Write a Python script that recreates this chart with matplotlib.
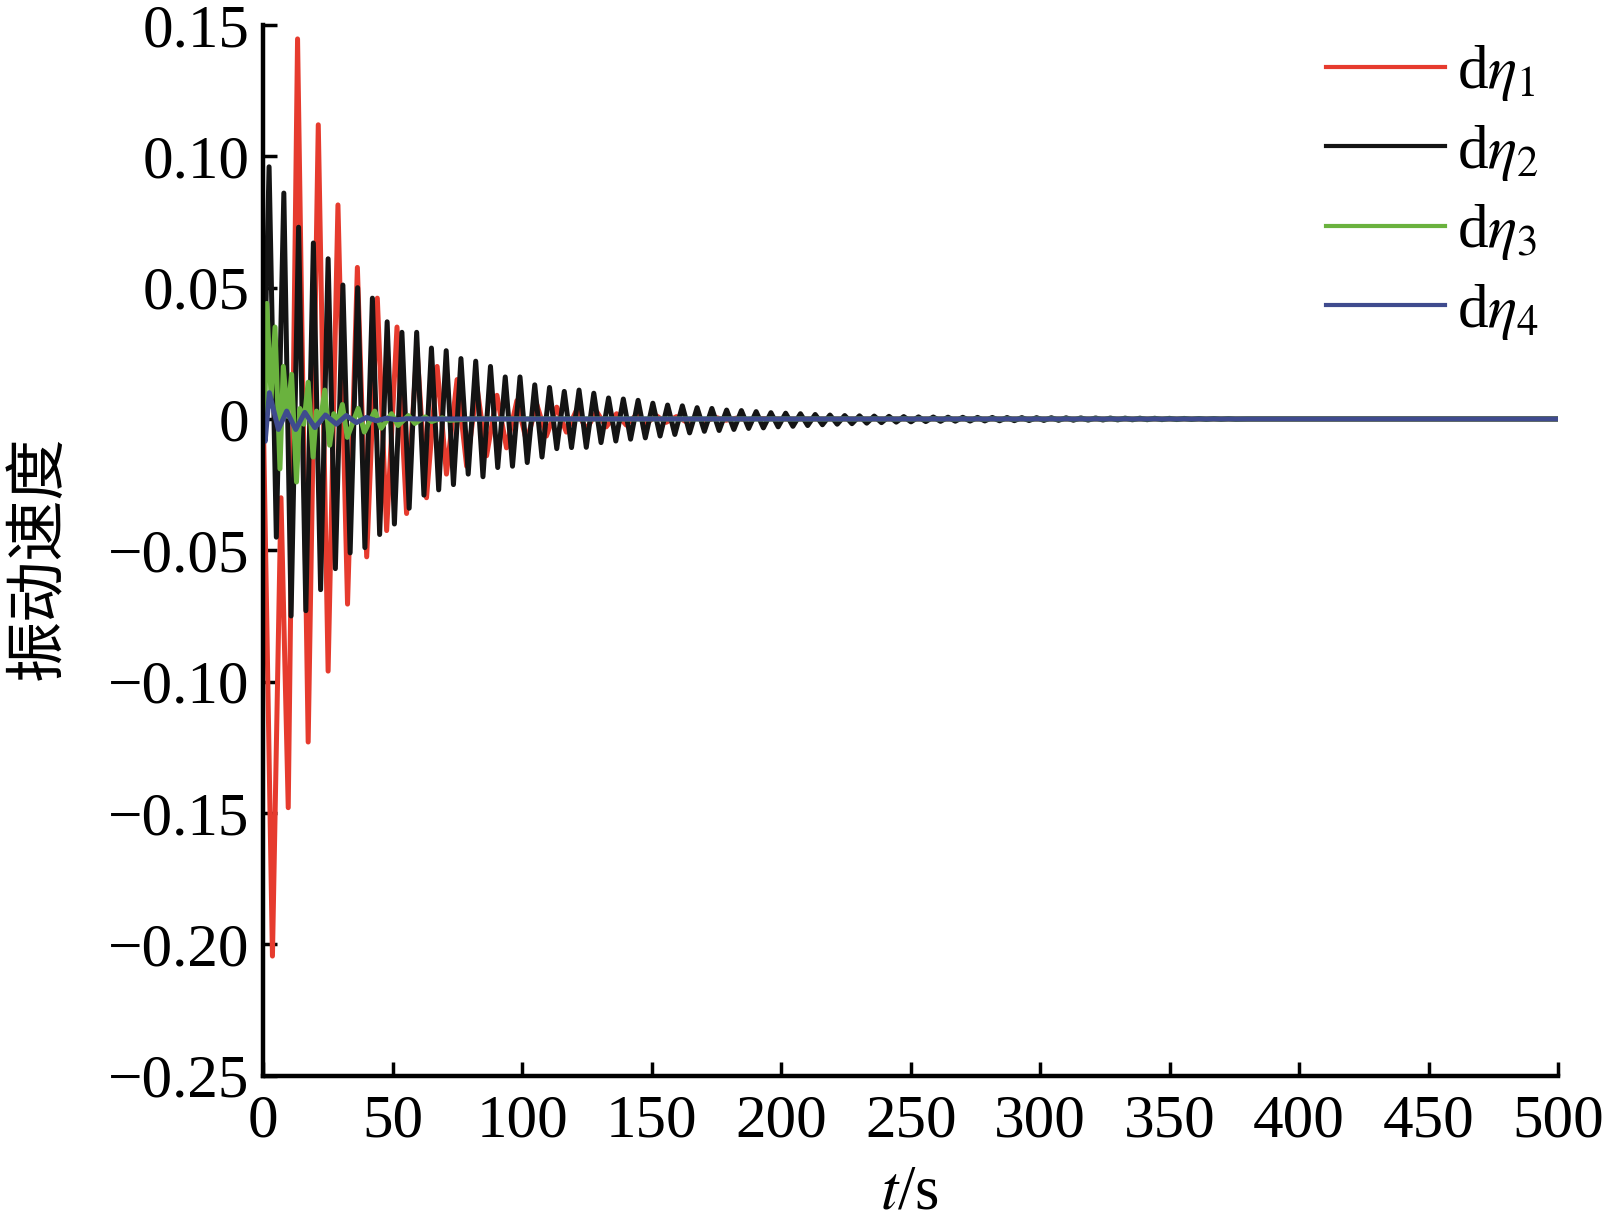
import numpy as np
import matplotlib
matplotlib.use('Agg')
import matplotlib.pyplot as plt

plt.rcParams['font.family'] = ['Liberation Serif', 'Noto Sans CJK SC']
plt.rcParams['mathtext.fontset'] = 'stix'

# extrema (t in s, value)
red_t = [0, 3.5, 6.8, 9.6, 13.2, 17.3, 21.2, 25.0, 28.8, 32.5, 36.3, 39.9, 44.0, 47.6, 51.6,
         55.3, 59.3, 63.0, 67.1, 70.7, 74.8, 78.5, 82.5, 86.2, 90.2, 93.9, 97.9, 101.6, 105.6,
         109.3, 113.3, 117.0, 121.0, 124.7, 128.7, 132.4, 136.4, 140.1, 144.1, 147.8, 151.8,
         155.5, 159.5, 163.2, 167.2, 170.9, 174.9, 178.6, 182.6, 186.3, 190.3, 200, 500]
red_v = [0, -0.2045, -0.03, -0.148, 0.1447, -0.123, 0.112, -0.096, 0.0815, -0.0705, 0.0577,
         -0.0525, 0.046, -0.0425, 0.035, -0.036, 0.027, -0.030, 0.020, -0.021, 0.015, -0.018,
         0.012, -0.014, 0.009, -0.011, 0.007, -0.0085, 0.0055, -0.0065, 0.0045, -0.005, 0.0035,
         -0.004, 0.0028, -0.003, 0.002, -0.0023, 0.0016, -0.0017, 0.0012, -0.0013, 0.0009,
         -0.001, 0.0007, -0.0007, 0.0005, -0.0005, 0.0003, -0.0003, 0.0002, 0, 0]

black_peak_t = [2.2, 7.9, 13.6, 19.3, 25.0, 30.7, 36.4, 42.1, 47.8, 53.5,
                59.2, 64.9, 70.6, 76.3, 82.0, 87.7, 93.4, 99.1, 104.8, 110.5,
                116.2, 121.9, 127.6, 133.3, 139.0, 144.7, 150.4, 156.1, 161.8, 167.5,
                173.2, 178.9, 184.6, 190.3, 196.0, 201.7, 207.4, 213.1, 218.8, 224.5,
                230.2, 235.9, 241.6, 247.3, 253.0, 258.7, 264.4, 270.1, 275.8, 281.5,
                287.2, 292.9, 298.6, 304.3, 310.0, 315.7, 321.4, 327.1, 332.8, 338.5,
                344.2, 349.9, 355.6, 361.3, 367.0, 372.7]
black_peak_v = [0.096, 0.086, 0.073, 0.067, 0.061, 0.051, 0.050, 0.046, 0.037, 0.033,
                0.033, 0.027, 0.026, 0.023, 0.022, 0.020, 0.016, 0.016, 0.013, 0.012,
                0.0105, 0.011, 0.0098, 0.008, 0.0076, 0.0071, 0.006, 0.0053, 0.005, 0.0043,
                0.004, 0.0034, 0.0032, 0.0028, 0.0024, 0.0022, 0.002, 0.0017, 0.0015, 0.0013,
                0.0012, 0.0011, 0.001, 0.0009, 0.0008, 0.00075, 0.00068, 0.00064, 0.0006, 0.00058,
                0.00055, 0.00052, 0.0005, 0.00047, 0.00044, 0.00041, 0.00038, 0.00035, 0.00032, 0.0003,
                0.00027, 0.00024, 0.00021, 0.00018, 0.00015, 0.00012]
black_trough_t = [5.0, 10.7, 16.4, 22.1, 27.8, 33.5, 39.2, 44.9, 50.6, 56.3,
                  62.0, 67.7, 73.4, 79.1, 84.8, 90.5, 96.2, 101.9, 107.6, 113.3,
                  119.0, 124.7, 130.4, 136.1, 141.8, 147.5, 153.2, 158.9, 164.6, 170.3,
                  176.0, 181.7, 187.4, 193.1, 198.8, 204.5, 210.2, 215.9, 221.6, 227.3,
                  233.0, 238.7, 244.4, 250.1, 255.8, 261.5, 267.2, 272.9, 278.6, 284.3,
                  290.0, 295.7, 301.4, 307.1, 312.8, 318.5, 324.2, 329.9, 335.6, 341.3,
                  347.0, 352.7, 358.4, 364.1, 369.8, 375.5]
black_trough_v = [-0.045, -0.075, -0.073, -0.065, -0.057, -0.051, -0.049, -0.044, -0.040, -0.034,
                  -0.029, -0.027, -0.025, -0.021, -0.022, -0.0185, -0.018, -0.0166, -0.0145, -0.0113,
                  -0.0109, -0.0108, -0.009, -0.0084, -0.0077, -0.0072, -0.0065, -0.0059, -0.0053, -0.0047,
                  -0.0044, -0.004, -0.0036, -0.0034, -0.003, -0.0028, -0.0025, -0.0022, -0.002, -0.0018,
                  -0.0016, -0.0014, -0.0012, -0.0011, -0.001, -0.0009, -0.00085, -0.0008, -0.00075, -0.0007,
                  -0.00065, -0.0006, -0.00056, -0.00052, -0.00048, -0.00044, -0.0004, -0.00036, -0.00032, -0.00029,
                  -0.00026, -0.00023, -0.0002, -0.00017, -0.00014, -0.00011]

green_t = [0, 0.4, 1.3, 3.0, 4.5, 6.4, 7.7, 9.3, 10.9, 12.8, 14.1, 15.6, 17.3, 19.2, 20.5,
           22.0, 23.7, 25.6, 27.2, 28.8, 30.5, 32.4, 36.6, 39.0, 43.0, 45.5, 49.5, 52.0,
           56.0, 58.5, 62.5, 65.0, 69.0, 72.0, 80, 500]
green_v = [0, -0.008, 0.044, 0.008, 0.035, -0.019, 0.020, 0.001, 0.017, -0.024, 0.004, -0.002,
           0.014, -0.0145, 0.003, -0.001, 0.011, -0.010, 0.002, -0.001, 0.0055, -0.007, 0.004,
           -0.005, 0.003, -0.0035, 0.002, -0.0025, 0.0013, -0.0017, 0.0008, -0.001, 0.0004,
           -0.0005, 0, 0]

blue_t = [0, 0.7, 2.3, 5.8, 9.0, 12.5, 16.0, 19.9, 24.0, 28.2, 32.0, 35.9, 39.8, 43.6,
          47.5, 51.5, 55.5, 60, 500]
blue_v = [0, -0.0085, 0.010, -0.004, 0.003, -0.004, 0.0025, -0.0033, 0.0015, -0.002,
          0.0013, -0.0014, 0.0006, -0.0007, 0.0003, -0.0003, 0.0001, 0, 0]

labels = [r'd$\eta_{1}$', r'd$\eta_{2}$', r'd$\eta_{3}$', r'd$\eta_{4}$']
colors = ['#e63b2e', '#141414', '#6ab23e', '#3f4b8e']

x_ticks = [0, 50, 100, 150, 200, 250, 300, 350, 400, 450, 500]
y_ticks = [-0.25, -0.20, -0.15, -0.10, -0.05, 0, 0.05, 0.10, 0.15]
y_tick_labels = ['\u22120.25', '\u22120.20', '\u22120.15', '\u22120.10', '\u22120.05',
                 '0', '0.05', '0.10', '0.15']

# black: merge peaks and troughs in time order
bt = np.concatenate([[0], black_peak_t, black_trough_t, [380, 500]])
bv = np.concatenate([[0], black_peak_v, black_trough_v, [0, 0]])
order = np.argsort(bt)
bt, bv = bt[order], bv[order]

fig = plt.figure(figsize=(16.04, 12.2), dpi=100)
ax = fig.add_axes([0.1642, 0.1184, 0.8072, 0.8611])

lw = 3.6
ax.plot(red_t, red_v, color=colors[0], lw=lw, label=labels[0])
ax.plot(bt, bv, color=colors[1], lw=lw, label=labels[1])
ax.plot(green_t, green_v, color=colors[2], lw=lw, label=labels[2])
ax.plot(blue_t, blue_v, color=colors[3], lw=lw, label=labels[3])

ax.set_xlim(0, 500)
ax.set_ylim(-0.25, 0.15)
ax.set_xticks(x_ticks)
ax.set_yticks(y_ticks)
ax.set_yticklabels(y_tick_labels)
ax.spines['top'].set_visible(False)
ax.spines['right'].set_visible(False)
for s in ['left', 'bottom']:
    ax.spines[s].set_linewidth(3.2)
ax.tick_params(direction='in', length=10, width=2.5, labelsize=44)
ax.tick_params(axis='x', pad=13)
ax.tick_params(axis='y', pad=10)

fig.text(0.567, 0.022, r'$t$/s', fontsize=45, ha='center', va='center')
fig.text(0.024, 0.543, '振动速度', fontsize=44, rotation=90, ha='center', va='center',
         family=['Noto Sans CJK SC'])

leg = ax.legend(loc='upper right', bbox_to_anchor=(1.004, 1.006), frameon=False,
                fontsize=44, handlelength=1.95, handletextpad=0.2, labelspacing=0.32,
                borderaxespad=0)
for h in leg.get_lines():
    h.set_linewidth(3.0)

fig.savefig('out.png', dpi=100)
